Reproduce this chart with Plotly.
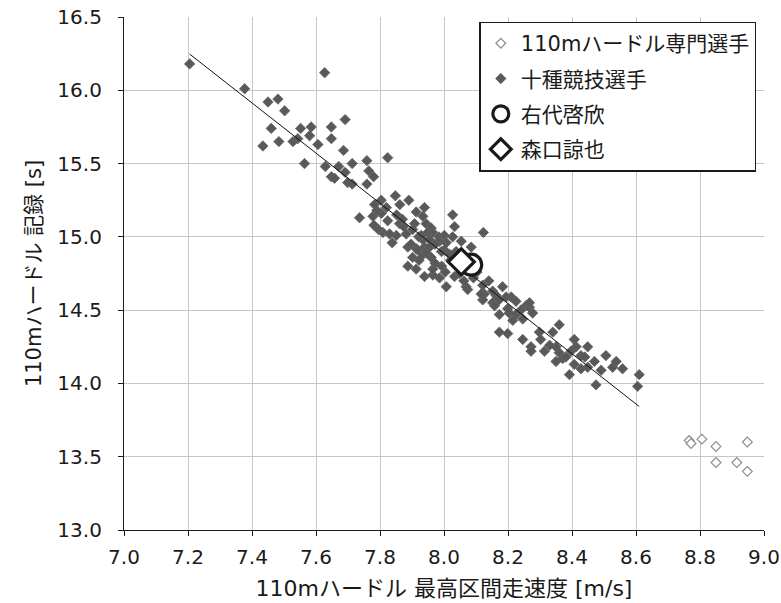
import numpy as np
import plotly.graph_objects as go

# 110m hurdle specialists
hurdler_speed = [8.766, 8.772, 8.806, 8.850, 8.948, 8.850, 8.915, 8.948]
hurdler_time = [13.61, 13.59, 13.62, 13.57, 13.60, 13.46, 13.46, 13.40]

# decathletes
dec_speed = [
    7.205, 7.377, 7.450, 7.481, 7.502, 7.627, 7.460, 7.434, 7.484, 7.552,
    7.585, 7.580, 7.528, 7.543, 7.648, 7.691, 7.648, 7.606, 7.686, 7.564,
    7.629, 7.671, 7.648, 7.658, 7.691, 7.713, 7.759, 7.765, 7.780, 7.824,
    7.699, 7.713, 7.759, 7.848, 7.890, 7.804, 7.783, 7.804, 7.778, 7.736,
    7.913,
    7.781, 7.809, 7.795, 7.851, 7.838, 7.861, 7.874, 7.939, 7.934, 7.908,
    7.944, 7.960, 7.882, 7.887, 7.913, 7.939, 7.934, 7.960, 7.887, 7.913,
    7.939, 7.965, 7.965, 7.984, 8.001, 7.986, 8.004, 8.007, 7.824, 7.830,
    7.897, 7.949, 7.934, 7.955, 7.918, 7.955, 8.027, 8.033, 8.027, 8.123,
    8.054, 8.085, 7.986, 8.007, 8.033, 8.069, 8.074, 8.121, 8.126, 8.163,
    8.183, 8.210, 8.121, 8.152, 8.225, 8.256, 8.038, 8.001, 7.944, 8.116,
    8.194, 8.158, 8.267, 8.277, 8.173, 8.204, 8.225, 8.246, 7.929, 7.965,
    8.152, 8.199, 8.267, 8.215, 8.173, 8.199, 8.246, 8.272, 8.272, 8.298,
    8.340, 8.360, 8.314, 8.350, 8.360, 8.371, 8.381, 8.350, 8.407, 8.413,
    8.449, 8.428, 8.407, 8.392, 8.428, 8.449, 8.475, 8.491, 8.506, 8.527,
    8.538, 8.558, 8.610, 8.605, 8.397,
    7.790, 7.820, 7.852, 7.870, 7.902, 7.921, 7.972, 7.992, 8.018, 8.048,
    8.062, 8.092, 8.103, 8.140, 7.902, 7.922, 7.972, 7.993, 8.020, 8.172,
    8.240, 8.302, 8.330, 8.440, 8.470, 7.862,
]
dec_time = [
    16.18, 16.01, 15.92, 15.94, 15.86, 16.12, 15.74, 15.62, 15.65, 15.74,
    15.75, 15.69, 15.65, 15.67, 15.75, 15.80, 15.67, 15.63, 15.59, 15.50,
    15.48, 15.48, 15.41, 15.40, 15.44, 15.50, 15.52, 15.45, 15.41, 15.54,
    15.37, 15.36, 15.36, 15.28, 15.25, 15.25, 15.22, 15.16, 15.14, 15.13,
    15.17,
    15.08, 15.03, 15.05, 15.01, 14.96, 15.09, 15.07, 15.20, 15.14, 15.09,
    15.09, 15.06, 15.02, 14.93, 14.92, 14.93, 14.88, 14.86, 14.80, 14.78,
    14.73, 14.74, 14.78, 15.00, 15.01, 14.97, 14.76, 14.96, 15.11, 15.02,
    14.95, 15.03, 14.98, 14.98, 14.91, 14.93, 15.00, 15.07, 15.15, 15.03,
    14.97, 14.93, 14.72, 14.66, 14.73, 14.66, 14.64, 14.67, 14.61, 14.60,
    14.66, 14.59, 14.57, 14.55, 14.56, 14.53, 14.90, 14.91, 14.89, 14.61,
    14.59, 14.53, 14.52, 14.48, 14.47, 14.48, 14.47, 14.44, 15.01, 15.03,
    14.63, 14.51, 14.55, 14.43, 14.35, 14.34, 14.30, 14.25, 14.22, 14.35,
    14.35, 14.40, 14.22, 14.25, 14.21, 14.17, 14.18, 14.15, 14.30, 14.25,
    14.25, 14.19, 14.13, 14.06, 14.10, 14.11, 13.99, 14.09, 14.19, 14.11,
    14.15, 14.10, 14.06, 13.98, 14.22,
    15.18, 15.20, 15.15, 15.12, 15.05, 15.00, 14.95, 14.90, 14.88, 14.75,
    14.70, 14.72, 14.76, 14.70, 14.86, 14.84, 14.82, 14.80, 14.84, 14.57,
    14.50, 14.30, 14.26, 14.18, 14.15, 15.22,
]

# highlighted athletes
ushiro_speed = [8.085]
ushiro_time = [14.81]
moriguchi_speed = [8.054]
moriguchi_time = [14.83]

x_ticks = [7.0, 7.2, 7.4, 7.6, 7.8, 8.0, 8.2, 8.4, 8.6, 8.8, 9.0]
y_ticks = [13.0, 13.5, 14.0, 14.5, 15.0, 15.5, 16.0, 16.5]

# linear trend of the decathletes
slope, intercept = np.polyfit(dec_speed, dec_time, 1)
trend_x = np.array([min(dec_speed), max(dec_speed)])
trend_y = slope * trend_x + intercept

FONT = "DejaVu Sans, Noto Sans CJK JP, sans-serif"

fig = go.Figure()
fig.add_trace(go.Scatter(
    x=hurdler_speed, y=hurdler_time, mode="markers", name="110mハードル専門選手",
    legendgroup="g1",
    marker=dict(symbol="diamond", size=7.5, color="white",
                line=dict(color="#8c8c8c", width=1.2)),
))
fig.add_trace(go.Scatter(
    x=dec_speed, y=dec_time, mode="markers", name="十種競技選手",
    legendgroup="g2",
    marker=dict(symbol="diamond", size=8, color="#595959",
                line=dict(color="#666666", width=0.8)),
))
fig.add_trace(go.Scatter(
    x=trend_x, y=trend_y, mode="lines", showlegend=False, legendgroup="g2",
    line=dict(color="#111111", width=1), hoverinfo="skip",
))
fig.add_trace(go.Scatter(
    x=ushiro_speed, y=ushiro_time, mode="markers", name="右代啓欣",
    legendgroup="g3",
    marker=dict(symbol="circle", size=21, color="white",
                line=dict(color="#1a1a1a", width=3.2)),
))
fig.add_trace(go.Scatter(
    x=moriguchi_speed, y=moriguchi_time, mode="markers", name="森口諒也",
    legendgroup="g4",
    marker=dict(symbol="diamond", size=20, color="white",
                line=dict(color="#1a1a1a", width=3.2)),
))

fig.update_layout(
    width=781, height=603,
    margin=dict(l=124, r=17, t=17, b=73, autoexpand=False),
    paper_bgcolor="white", plot_bgcolor="white",
    font=dict(family=FONT, color="#1a1a1a"),
    showlegend=True,
    legend=dict(
        x=0.988, y=0.991, xanchor="right", yanchor="top",
        bgcolor="white", bordercolor="#1a1a1a", borderwidth=1.5,
        font=dict(size=21, family=FONT, color="#1a1a1a"),
        itemsizing="trace", traceorder="grouped", tracegroupgap=5,
    ),
    xaxis=dict(
        range=[7.0, 9.0], tickvals=x_ticks, ticktext=[f"{v:.1f}" for v in x_ticks],
        showgrid=True, gridcolor="#c6c6c6", gridwidth=1,
        showline=True, linecolor="#1a1a1a", linewidth=1.2,
        ticks="outside", ticklen=5, tickcolor="#1a1a1a",
        tickfont=dict(size=20, family=FONT), ticklabelstandoff=4,
        title=dict(text="110mハードル 最高区間走速度 [m/s]",
                   font=dict(size=22, family=FONT), standoff=12),
        zeroline=False, automargin=False,
    ),
    yaxis=dict(
        range=[13.0, 16.5], tickvals=y_ticks, ticktext=[f"{v:.1f}" for v in y_ticks],
        showgrid=True, gridcolor="#c6c6c6", gridwidth=1,
        showline=True, linecolor="#1a1a1a", linewidth=1.2,
        ticks="outside", ticklen=5, tickcolor="#1a1a1a",
        tickfont=dict(size=20, family=FONT), ticklabelstandoff=12,
        title=dict(text="110mハードル 記録 [s]",
                   font=dict(size=21, family=FONT), standoff=10),
        zeroline=False, automargin=False,
    ),
)

fig.write_html("out.html")
